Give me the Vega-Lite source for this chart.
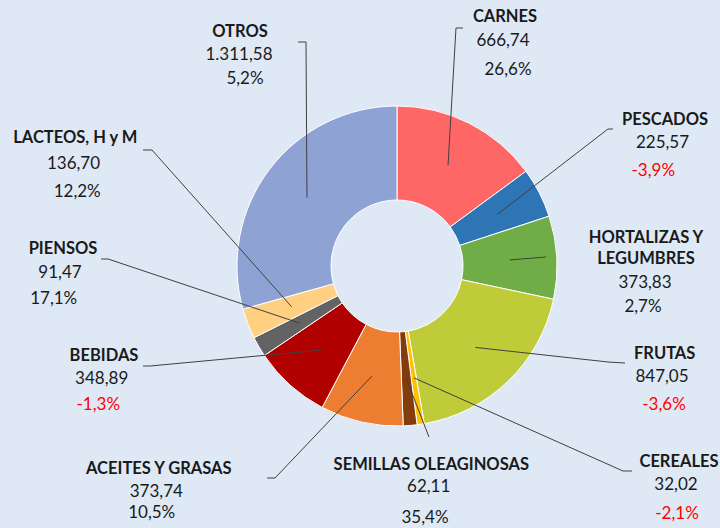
{
  "$schema": "https://vega.github.io/schema/vega-lite/v6.json",
  "width": 720,
  "height": 528,
  "padding": 0,
  "autosize": {"type": "fit", "contains": "padding"},
  "background": "#dee9f5",
  "config": {
    "view": {"stroke": null},
    "locale": {"number": {"decimal": ",", "thousands": ".", "grouping": [3], "currency": ["", " €"], "minus": "-"}}
  },
  "data": {
    "values": [
      {"idx": 1, "cat": "CARNES", "value": 666.74, "chg": 0.266, "nx": 108, "ny": 249, "vx": 106, "vy": 225.5, "px": 111, "py": 196, "bx": 59, "by": 238, "ex": 66, "ey": 238},
      {"idx": 2, "cat": "PESCADOS", "value": 225.57, "chg": -0.039, "nx": 268, "ny": 146, "vx": 265.5, "vy": 123.3, "px": 256.3, "py": 95.5, "bx": 211, "by": 137, "ex": 216, "ey": 137},
      {"idx": 3, "cat": "HORTALIZAS Y\nLEGUMBRES", "value": 373.83, "chg": 0.027, "nx": 249, "ny": 28.3, "vx": 248, "vy": -17, "px": 246, "py": -41, "bx": 149, "by": 9, "ex": 149, "ey": 9},
      {"idx": 4, "cat": "FRUTAS", "value": 847.05, "chg": -0.036, "nx": 267.7, "ny": -87.5, "vx": 265, "vy": -111, "px": 267, "py": -138.7, "bx": 211, "by": -96, "ex": 228, "ey": -97},
      {"idx": 5, "cat": "CEREALES", "value": 32.02, "chg": -0.021, "nx": 282, "ny": -196, "vx": 279, "vy": -219, "px": 280, "py": -248, "bx": 226, "by": -205, "ex": 235, "ey": -205},
      {"idx": 6, "cat": "SEMILLAS OLEAGINOSAS", "value": 62.11, "chg": 0.354, "nx": 34.3, "ny": -199, "vx": 31.7, "vy": -221, "px": 28, "py": -252, "bx": 32, "by": -171, "ex": 32, "ey": -171},
      {"idx": 7, "cat": "ACEITES Y GRASAS", "value": 373.74, "chg": 0.105, "nx": -238.2, "ny": -202.5, "vx": -240.7, "vy": -225.5, "px": -245.3, "py": -247, "bx": -122, "by": -212, "ex": -130, "ey": -212},
      {"idx": 8, "cat": "BEBIDAS", "value": 348.89, "chg": -0.013, "nx": -293, "ny": -89.7, "vx": -295.3, "vy": -113.3, "px": -298.7, "py": -139, "bx": -247, "by": -100, "ex": -254, "ey": -100},
      {"idx": 9, "cat": "PIENSOS", "value": 91.47, "chg": 0.171, "nx": -334, "ny": 16.7, "vx": -337, "vy": -6.7, "px": -343.3, "py": -32.8, "bx": -289, "by": 7, "ex": -296, "ey": 7},
      {"idx": 10, "cat": "LACTEOS, H y M", "value": 136.70, "chg": 0.122, "nx": -321.7, "ny": 128, "vx": -323.5, "vy": 102.5, "px": -319.8, "py": 74, "bx": -245, "by": 116, "ex": -254, "ey": 116},
      {"idx": 11, "cat": "OTROS", "value": 1311.58, "chg": 0.052, "nx": -157, "ny": 234.5, "vx": -158, "vy": 211, "px": -152, "py": 187.5, "bx": -91, "by": 224, "ex": -99, "ey": 224}
    ]
  },
  "layer": [
    {
      "mark": {"type": "arc", "outerRadius": 160, "innerRadius": 66, "stroke": "#ffffff", "strokeWidth": 1},
      "encoding": {
        "x": {"datum": 0, "type": "quantitative", "scale": {"domain": [-397, 323], "nice": false, "zero": false}, "axis": null},
        "y": {"datum": 0, "type": "quantitative", "scale": {"domain": [-262, 266], "nice": false, "zero": false}, "axis": null},
        "theta": {"field": "value", "type": "quantitative", "stack": true},
        "order": {"field": "idx", "type": "quantitative"},
        "color": {
          "field": "cat", "type": "nominal", "legend": null,
          "scale": {
            "domain": ["CARNES", "PESCADOS", "HORTALIZAS Y\nLEGUMBRES", "FRUTAS", "CEREALES", "SEMILLAS OLEAGINOSAS", "ACEITES Y GRASAS", "BEBIDAS", "PIENSOS", "LACTEOS, H y M", "OTROS"],
            "range": ["#ff6666", "#2e75b6", "#70ad47", "#bfcb38", "#ffc000", "#843c0c", "#ed7d31", "#b00000", "#636363", "#ffd082", "#8fa2d4"]
          }
        }
      }
    },
    {
      "transform": [
        {"window": [{"op": "sum", "field": "value", "as": "cum"}], "sort": [{"field": "idx"}], "frame": [null, 0]},
        {"joinaggregate": [{"op": "sum", "field": "value", "as": "total"}]},
        {"calculate": "2 * PI * (datum.cum - datum.value / 2) / datum.total", "as": "ang"},
        {"calculate": "113 * sin(datum.ang)", "as": "sx"},
        {"calculate": "113 * cos(datum.ang)", "as": "sy"}
      ],
      "mark": {"type": "rule", "color": "#404040", "strokeWidth": 1},
      "encoding": {
        "x": {"field": "sx", "type": "quantitative", "axis": null},
        "y": {"field": "sy", "type": "quantitative", "axis": null},
        "x2": {"field": "bx"},
        "y2": {"field": "by"}
      }
    },
    {
      "mark": {"type": "rule", "color": "#404040", "strokeWidth": 1},
      "encoding": {
        "x": {"field": "bx", "type": "quantitative", "axis": null},
        "y": {"field": "by", "type": "quantitative", "axis": null},
        "x2": {"field": "ex"},
        "y2": {"field": "ey"}
      }
    },
    {
      "mark": {"type": "text", "font": "Lato", "fontWeight": "bold", "fontSize": 16.5, "lineBreak": "\n", "lineHeight": 21.3, "color": "#1a1a1a", "align": "center", "baseline": "middle"},
      "encoding": {
        "x": {"field": "nx", "type": "quantitative", "axis": null},
        "y": {"field": "ny", "type": "quantitative", "axis": null},
        "text": {"field": "cat", "type": "nominal"}
      }
    },
    {
      "mark": {"type": "text", "font": "Lato", "fontSize": 17, "color": "#1a1a1a", "align": "center", "baseline": "middle"},
      "encoding": {
        "x": {"field": "vx", "type": "quantitative", "axis": null},
        "y": {"field": "vy", "type": "quantitative", "axis": null},
        "text": {"field": "value", "type": "quantitative", "format": ",.2f"}
      }
    },
    {
      "mark": {"type": "text", "font": "Lato", "fontSize": 17, "align": "center", "baseline": "middle"},
      "encoding": {
        "x": {"field": "px", "type": "quantitative", "axis": null},
        "y": {"field": "py", "type": "quantitative", "axis": null},
        "text": {"field": "chg", "type": "quantitative", "format": ".1%"},
        "color": {"condition": {"test": "datum.chg < 0", "value": "#ff0000"}, "value": "#1a1a1a"}
      }
    }
  ]
}
